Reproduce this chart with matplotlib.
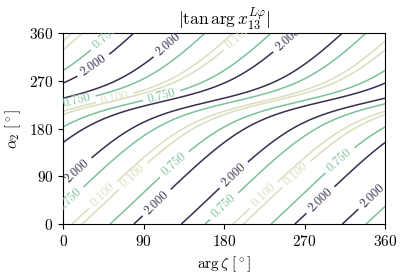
import numpy as np
import matplotlib
matplotlib.use("Agg")
import matplotlib.pyplot as plt

plt.rcParams['font.family'] = 'serif'
plt.rcParams['font.serif'] = ['cmr10']
plt.rcParams['mathtext.fontset'] = 'cm'
plt.rcParams['axes.unicode_minus'] = False
plt.rcParams['axes.formatter.use_mathtext'] = True

# contour levels of |tan arg x13| and their colours
levels = [0.1, 0.75, 2.0]
level_colors = ['#dcdcc0', '#7cc19a', '#3a2d50']
ticks = [0, 90, 180, 270, 360]

# phase model: arg x13 = zeta + beta + arg(exp(-i(a2 - a_c)) - rho)
rho = 0.6
alpha_c = 231.0
beta = 132.0

# where the contour labels sit (arg zeta, alpha2)
label_pos = [(50, 347), (36, 294), (120, 334), (200, 343), (254, 343),
             (15, 237), (58, 237), (110, 243),
             (17, 98), (10, 40), (47, 51), (80, 87), (123, 115), (106, 38),
             (192, 90), (181, 32), (226, 51), (263, 89), (311, 117),
             (290, 41), (347, 51)]

zeta = np.linspace(0, 360, 721)
alpha2 = np.linspace(0, 360, 721)
Z, A = np.meshgrid(zeta, alpha2)
g = np.exp(-1j * np.radians(A - alpha_c)) - rho
x13 = np.exp(1j * np.radians(Z + beta)) * g
field = np.abs(np.tan(np.angle(x13)))

fig = plt.figure(figsize=(4.07, 2.8), dpi=100)
ax = fig.add_axes([0.155, 0.2, 0.791, 0.682])
cs = ax.contour(Z, A, field, levels=levels, colors=level_colors, linewidths=1.1)
labels = ax.clabel(cs, fmt='%.3f', fontsize=9, inline=True, manual=label_pos)
for t in labels:
    t.set_clip_on(True)
    t.set_clip_path(ax.patch)

ax.set_xticks(ticks)
ax.set_yticks(ticks)
ax.set_xlim(0, 360)
ax.set_ylim(0, 360)
ax.tick_params(labelsize=11)
ax.set_xlabel(r'$\arg\zeta\ [^\circ]$', fontsize=11)
ax.set_ylabel(r'$\alpha_2\ [^\circ]$', fontsize=11)
ax.set_title(r'$|\tan\arg x_{13}^{L\varphi}|$', fontsize=12.5)

fig.savefig('out.png', dpi=100)
